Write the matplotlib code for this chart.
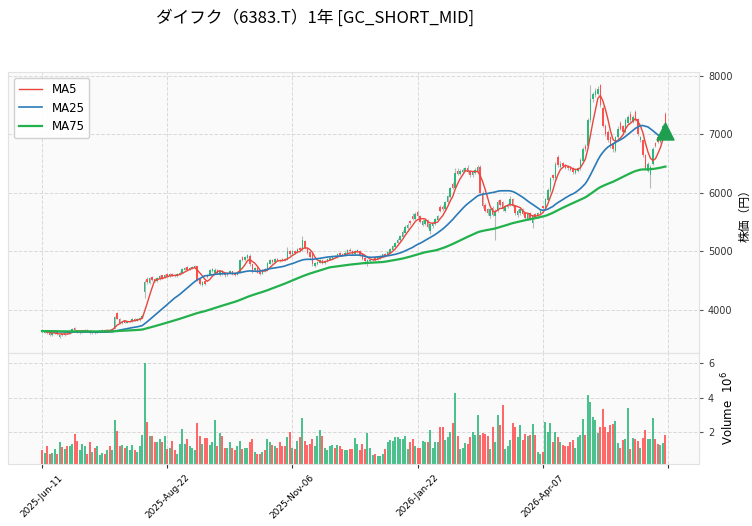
import numpy as np
import pandas as pd
import matplotlib
matplotlib.use('Agg')
import matplotlib.pyplot as plt

#%% data (price in yen, volume in millions)
opens = [3660, 3615, 3640, 3610, 3575, 3600, 3625, 3545, 3590, 3570,
         3620, 3605, 3640, 3690, 3655, 3610, 3625, 3640, 3660, 3640,
         3600, 3625, 3610, 3630, 3645, 3665, 3635, 3665, 3645, 3680,
         3950, 3850, 3770, 3810, 3780, 3800, 3810, 3850, 3820, 3830,
         3870, 4300, 4530, 4470, 4560, 4530, 4490, 4530, 4590, 4550,
         4610, 4580, 4620, 4600, 4580, 4600, 4640, 4690, 4730, 4690,
         4710, 4730, 4750, 4530, 4430, 4490, 4600, 4600, 4670, 4640,
         4690, 4600, 4670, 4620, 4590, 4620, 4660, 4630, 4600, 4650,
         4900, 4850, 4890, 4930, 4780, 4680, 4720, 4650, 4620, 4700,
         4680, 4790, 4860, 4820, 4880, 4860, 4870, 4880, 4860, 5000,
         4950, 5010, 4980, 5060, 5020, 5180, 5060, 4990, 4960, 4760,
         4780, 4810, 4860, 4800, 4830, 4860, 4880, 4930, 4900, 4970,
         4960, 4930, 4970, 5030, 5010, 4950, 4990, 5010, 4950, 4890,
         4800, 4830, 4850, 4890, 4860, 4890, 4910, 4960, 4930, 4980,
         5030, 5080, 5140, 5190, 5250, 5320, 5400, 5520, 5600, 5550,
         5680, 5600, 5450, 5470, 5530, 5350, 5430, 5470, 5530, 5760,
         5760, 5720, 5840, 5940, 6150, 6080, 6380, 6320, 6360, 6380,
         6430, 6380, 6300, 6340, 6380, 6450, 6000, 5800, 5720, 5600,
         5750, 5600, 5700, 5880, 5850, 5700, 5760, 5790, 5900, 5780,
         5620, 5650, 5720, 5660, 5560, 5650, 5480, 5640, 5600, 5650,
         5780, 5740, 5880, 6040, 6300, 6250, 6620, 6450, 6510, 6480,
         6450, 6440, 6420, 6340, 6380, 6420, 6550, 6800, 6800, 7250,
         7600, 7680, 7700, 7850, 7450, 7150, 7050, 6950, 6850, 6720,
         6950, 7200, 7150, 7050, 7200, 7350, 7220, 7380, 7260, 6900,
         6900, 6650, 6380, 6300, 6500, 6850, 6950, 6880, 6980, 7350]
closes = [3630, 3640, 3600, 3580, 3600, 3620, 3590, 3575, 3570, 3600,
          3600, 3640, 3670, 3650, 3620, 3630, 3650, 3660, 3630, 3600,
          3620, 3600, 3640, 3650, 3660, 3640, 3660, 3645, 3670, 3880,
          3850, 3780, 3800, 3780, 3810, 3820, 3850, 3820, 3840, 3870,
          3900, 4480, 4480, 4540, 4520, 4500, 4540, 4580, 4550, 4600,
          4580, 4610, 4590, 4580, 4610, 4640, 4700, 4720, 4690, 4720,
          4740, 4750, 4520, 4440, 4480, 4450, 4560, 4680, 4700, 4690,
          4630, 4660, 4610, 4590, 4630, 4660, 4620, 4600, 4640, 4850,
          4860, 4900, 4940, 4780, 4660, 4720, 4640, 4620, 4680, 4670,
          4800, 4850, 4820, 4870, 4850, 4830, 4850, 4860, 5000, 4950,
          5000, 4980, 5040, 5020, 5200, 5060, 4980, 4900, 4780, 4800,
          4820, 4860, 4800, 4840, 4870, 4890, 4920, 4900, 4950, 4940,
          4930, 4980, 5020, 5000, 4960, 5000, 5020, 4940, 4880, 4830,
          4850, 4860, 4880, 4860, 4900, 4920, 4950, 4930, 4990, 5040,
          5090, 5150, 5200, 5260, 5330, 5420, 5450, 5480, 5550, 5640,
          5600, 5500, 5520, 5530, 5420, 5470, 5480, 5550, 5600, 5700,
          5720, 5850, 5950, 6080, 6080, 6350, 6330, 6380, 6400, 6420,
          6360, 6300, 6360, 6390, 6440, 6000, 5780, 5700, 5650, 5720,
          5620, 5700, 5850, 5800, 5720, 5780, 5800, 5900, 5780, 5650,
          5700, 5720, 5640, 5580, 5640, 5560, 5620, 5600, 5660, 5700,
          5740, 5900, 6050, 6250, 6250, 6500, 6480, 6500, 6460, 6430,
          6420, 6400, 6360, 6400, 6430, 6560, 6750, 6750, 7250, 7600,
          7700, 7750, 7780, 7500, 7150, 7000, 6900, 6800, 6750, 6950,
          7100, 7100, 7050, 7250, 7300, 7250, 7300, 7250, 7000, 6950,
          6650, 6420, 6500, 6450, 6750, 6800, 6880, 7000, 7150, 7100]
highs = [3680, 3650, 3650, 3620, 3610, 3630, 3635, 3590, 3600, 3610,
         3630, 3650, 3690, 3710, 3665, 3640, 3660, 3675, 3670, 3650,
         3630, 3635, 3650, 3665, 3675, 3675, 3670, 3675, 3690, 3900,
         3970, 3870, 3820, 3825, 3820, 3835, 3860, 3860, 3855, 3885,
         3920, 4520, 4560, 4560, 4580, 4550, 4560, 4600, 4600, 4620,
         4630, 4630, 4630, 4615, 4625, 4660, 4720, 4740, 4745, 4735,
         4760, 4770, 4760, 4545, 4500, 4510, 4620, 4700, 4720, 4710,
         4700, 4680, 4690, 4630, 4645, 4680, 4670, 4645, 4660, 4870,
         4920, 4920, 4960, 4950, 4790, 4740, 4730, 4670, 4700, 4710,
         4820, 4870, 4880, 4890, 4895, 4875, 4885, 4895, 5080, 5020,
         5020, 5030, 5060, 5080, 5260, 5200, 5075, 5000, 4980, 4820,
         4840, 4880, 4870, 4860, 4885, 4905, 4940, 4945, 4970, 4990,
         4975, 5000, 5040, 5060, 5025, 5020, 5040, 5030, 4965, 4900,
         4870, 4875, 4895, 4905, 4915, 4935, 4965, 4975, 5010, 5060,
         5110, 5170, 5230, 5290, 5360, 5450, 5480, 5540, 5650, 5680,
         5710, 5620, 5550, 5560, 5550, 5490, 5500, 5570, 5620, 5790,
         5790, 5870, 5970, 6110, 6180, 6420, 6420, 6410, 6430, 6450,
         6480, 6400, 6380, 6420, 6480, 6480, 6030, 5830, 5750, 5750,
         5780, 5720, 5880, 5900, 5870, 5800, 5830, 5950, 5920, 5800,
         5720, 5750, 5740, 5680, 5660, 5670, 5640, 5660, 5680, 5720,
         5800, 5920, 6080, 6280, 6330, 6530, 6650, 6540, 6530, 6500,
         6470, 6460, 6440, 6420, 6450, 6590, 6780, 6830, 7280, 7850,
         7730, 7790, 7830, 7870, 7480, 7180, 7080, 6980, 6880, 6980,
         7140, 7230, 7170, 7280, 7330, 7400, 7330, 7420, 7280, 6980,
         6920, 6670, 6530, 6480, 6780, 6880, 6980, 7030, 7180, 7380]
lows = [3610, 3600, 3585, 3560, 3560, 3590, 3570, 3520, 3555, 3560,
        3590, 3595, 3630, 3640, 3610, 3595, 3615, 3630, 3620, 3590,
        3590, 3590, 3600, 3620, 3635, 3625, 3625, 3635, 3635, 3670,
        3840, 3760, 3760, 3770, 3770, 3790, 3800, 3805, 3810, 3820,
        3860, 4200, 4440, 4450, 4500, 4480, 4480, 4520, 4530, 4540,
        4570, 4570, 4580, 4560, 4570, 4590, 4630, 4680, 4680, 4680,
        4700, 4720, 4500, 4420, 4410, 4430, 4540, 4590, 4650, 4620,
        4610, 4580, 4600, 4570, 4575, 4610, 4600, 4585, 4590, 4640,
        4840, 4835, 4880, 4760, 4640, 4660, 4630, 4600, 4610, 4650,
        4670, 4780, 4800, 4810, 4830, 4815, 4835, 4845, 4850, 4930,
        4940, 4960, 4970, 5000, 5010, 5040, 4960, 4880, 4750, 4740,
        4770, 4800, 4780, 4790, 4820, 4850, 4870, 4885, 4890, 4925,
        4915, 4920, 4960, 4985, 4945, 4940, 4980, 4925, 4860, 4780,
        4760, 4815, 4840, 4845, 4850, 4880, 4900, 4915, 4920, 4970,
        5020, 5070, 5130, 5180, 5240, 5310, 5390, 5460, 5530, 5530,
        5580, 5480, 5430, 5450, 5400, 5300, 5410, 5460, 5520, 5680,
        5700, 5710, 5830, 5920, 6060, 6060, 6300, 6300, 6340, 6370,
        6340, 6280, 6280, 6320, 6370, 5980, 5750, 5680, 5620, 5580,
        5600, 5200, 5680, 5780, 5700, 5680, 5740, 5780, 5760, 5630,
        5590, 5630, 5620, 5560, 5540, 5540, 5400, 5580, 5580, 5630,
        5720, 5720, 5860, 6020, 6220, 6230, 6450, 6420, 6440, 6410,
        6400, 6380, 6330, 6320, 6360, 6400, 6530, 6720, 6780, 7220,
        7560, 7640, 7680, 7470, 7120, 6970, 6870, 6770, 6700, 6700,
        6920, 7070, 7020, 7030, 7180, 7220, 7200, 7230, 6980, 6880,
        6620, 6400, 6360, 6080, 6480, 6780, 6860, 6860, 6960, 7080]
volumes = [0.97, 0.78, 1.2, 0.75, 0.78, 1.0, 0.75, 1.42, 1.15, 1.0,
           1.2, 1.2, 1.3, 1.9, 1.5, 0.97, 1.3, 1.2, 0.75, 1.44,
           0.85, 1.1, 1.2, 0.65, 0.8, 0.75, 0.97, 1.2, 0.98, 2.7,
           2.08, 1.2, 1.25, 1.05, 1.2, 0.97, 1.25, 0.97, 0.85, 1.2,
           1.85, 6.0, 2.6, 1.8, 1.75, 1.4, 1.4, 1.6, 1.45, 1.75,
           1.0, 1.05, 1.5, 0.97, 0.75, 1.3, 2.2, 1.3, 1.6, 1.2,
           1.1, 0.98, 2.5, 1.8, 1.3, 1.67, 1.67, 1.25, 1.45, 2.7,
           1.2, 1.95, 1.75, 1.1, 1.1, 1.45, 1.1, 0.98, 1.2, 1.5,
           1.0, 1.1, 1.05, 1.4, 1.6, 0.85, 0.75, 0.7, 0.85, 0.98,
           1.6, 1.4, 1.25, 1.2, 1.05, 1.4, 1.2, 1.2, 1.7, 2.0,
           1.1, 1.0, 1.5, 1.7, 2.8, 1.5, 1.25, 1.3, 1.6, 1.2,
           1.8, 2.1, 1.8, 1.05, 0.97, 1.2, 1.25, 1.05, 1.25, 1.2,
           1.0, 0.97, 0.98, 1.0, 1.0, 1.67, 1.3, 0.97, 1.3, 1.0,
           1.95, 1.1, 0.65, 0.7, 0.6, 0.6, 0.75, 1.0, 1.45, 1.55,
           1.5, 1.7, 1.7, 1.6, 1.6, 1.75, 1.0, 1.45, 1.6, 1.2,
           1.1, 1.1, 1.5, 1.4, 1.45, 2.15, 1.05, 1.4, 1.4, 2.3,
           2.3, 1.55, 1.7, 2.0, 2.55, 4.3, 1.8, 1.0, 1.05, 1.35,
           1.3, 1.7, 2.0, 1.85, 3.0, 1.85, 1.95, 1.9, 1.8, 1.0,
           2.3, 1.45, 3.0, 2.4, 3.6, 1.0, 1.2, 1.55, 2.5, 2.3,
           1.7, 2.4, 1.55, 1.9, 1.8, 1.85, 2.45, 1.85, 0.85, 0.75,
           0.85, 2.6, 2.0, 2.5, 1.4, 2.0, 1.7, 1.4, 1.25, 1.2,
           1.2, 1.45, 1.55, 1.1, 1.7, 1.85, 2.75, 1.85, 4.15, 3.75,
           2.9, 2.7, 1.95, 2.3, 3.35, 2.3, 2.0, 2.4, 2.45, 2.65,
           1.35, 1.1, 1.55, 1.6, 3.4, 1.0, 1.65, 1.6, 1.5, 1.05,
           1.65, 2.15, 1.6, 1.6, 2.8, 1.6, 1.3, 1.25, 1.35, 1.85]

tick_pos = [0, 50, 100, 150, 200, 250]
tick_labels = ['2025-Jun-11', '2025-Aug-22', '2025-Nov-06', '2026-Jan-22', '2026-Apr-07', '']
ma_seed = 3640      # price level before the one-year window (moving average warm-up)
signal_idx = 249    # golden cross marker
signal_price = 7060

title = 'ダイフク（6383.T）1年 [GC_SHORT_MID]'

#%%
df = pd.DataFrame({'Open': opens, 'High': highs, 'Low': lows, 'Close': closes, 'Volume': volumes})
n = len(df)
x = np.arange(n)
warm = pd.Series([ma_seed] * 74 + closes)
ma = {}
for w in (5, 25, 75):
    ma[w] = warm.rolling(w).mean().iloc[74:].values

plt.rcParams['font.family'] = ['DejaVu Sans', 'Noto Sans CJK JP']
cjk = ['Noto Sans CJK JP', 'DejaVu Sans']
up_col, dn_col = '#2db77a', '#ff4f4f'
up = df['Close'] >= df['Open']
cols = np.where(up, up_col, dn_col)

fig = plt.figure(figsize=(7.52, 5.26), dpi=100)
ax = fig.add_axes([0.0106, 0.3289, 0.9189, 0.5342])
axv = fig.add_axes([0.0106, 0.1179, 0.9189, 0.2110], sharex=ax)

for a in (ax, axv):
    a.set_facecolor('#fafafa')
    a.grid(True, linestyle='--', color='#d9d9d9', linewidth=0.7)
    a.set_axisbelow(True)
    for s in a.spines.values():
        s.set_color('#e2e2e2')
    a.yaxis.tick_right()
    a.yaxis.set_label_position('right')
    a.tick_params(axis='y', labelsize=7, length=3, color='#555555', labelcolor='#333333')

# candles
ax.vlines(x, df['Low'], df['High'], color='#b8b8b8', linewidth=0.8, zorder=2)
body_lo = np.minimum(df['Open'], df['Close'])
body_h = np.maximum(np.abs(df['Close'] - df['Open']), 8)
ax.bar(x, body_h, bottom=body_lo, width=0.6, color=cols, linewidth=0, zorder=3)

ax.plot(x, ma[5], color='#e8453c', linewidth=1.0, label='MA5', zorder=4)
ax.plot(x, ma[25], color='#2a7ab8', linewidth=1.2, label='MA25', zorder=4)
ax.plot(x, ma[75], color='#22b14c', linewidth=1.6, label='MA75', zorder=4)
ax.scatter([signal_idx], [signal_price], marker='^', s=150, color='#1f9e50', zorder=5)

ax.set_ylim(3265, 8068)
ax.set_yticks([4000, 5000, 6000, 7000, 8000])
ax.set_ylabel('株価（円）', fontsize=8.5, family=cjk)
ax.tick_params(axis='x', labelbottom=False, length=0)
ax.legend(loc='upper left', fontsize=8.5, frameon=True, edgecolor='#cccccc', framealpha=0.9)

# volume
axv.bar(x, df['Volume'], width=0.8, color=cols, alpha=0.85, linewidth=0)
axv.set_ylim(0.145, 6.6)
axv.set_yticks([2, 4, 6])
axv.set_ylabel('Volume  $10^{6}$', fontsize=8.5)
axv.set_xlim(-13.6, 262.4)
axv.set_xticks(tick_pos)
axv.set_xticklabels(tick_labels, rotation=45, fontsize=6.5)
axv.tick_params(axis='x', length=3, color='#333333')

fig.text(0.419, 0.965, title, ha='center', va='center', fontsize=12, family=cjk)

fig.savefig('out.png', dpi=100)
